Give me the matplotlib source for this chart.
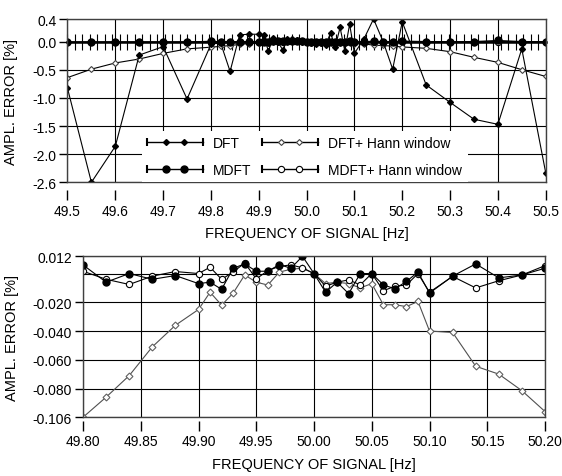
import numpy as np
import matplotlib
matplotlib.use('agg')
import matplotlib.pyplot as plt
from matplotlib.legend_handler import HandlerBase
from matplotlib.lines import Line2D

plt.rcParams['font.family'] = ['Liberation Sans', 'DejaVu Sans']

# frequencies [Hz]
f_left = [49.50, 49.55, 49.60, 49.65, 49.70, 49.75]
f_mid = [49.80, 49.82, 49.84, 49.86, 49.88, 49.90, 49.91, 49.92, 49.93, 49.94,
         49.95, 49.96, 49.97, 49.98, 49.99, 50.00, 50.01, 50.02, 50.03, 50.04,
         50.05, 50.06, 50.07, 50.08, 50.09, 50.10, 50.12, 50.14, 50.16, 50.18,
         50.20]
f_right = [50.25, 50.30, 50.35, 50.40, 50.45, 50.50]

# amplitude error [%]
dft_left = [-0.83, -2.5, -1.86, -0.24, -0.09, -1.02]
dft_mid = [-0.05, -0.02, -0.53, 0.12, 0.13, 0.13, 0.12, -0.17, 0.06, 0.0,
           -0.15, 0.05, 0.04, 0.03, 0.0, -0.01, -0.03, -0.04, -0.03, -0.06,
           0.15, -0.09, 0.25, -0.17, 0.31, -0.21, 0.05, 0.4, 0.0, -0.49,
           0.35]
dft_right = [-0.77, -1.08, -1.38, -1.47, -0.13, -2.33]

dfth_left = [-0.64, -0.49, -0.38, -0.31, -0.21, -0.13]
dfth_mid = [-0.1, -0.086, -0.071, -0.051, -0.036, -0.025, -0.013, -0.022, -0.0136, -0.001,
            -0.006, -0.008, 0.001, 0.003, 0.0037, 0.0, -0.007, -0.006, -0.007, -0.01,
            -0.007, -0.0217, -0.0217, -0.023, -0.0194, -0.04, -0.041, -0.0645, -0.070, -0.0815,
            -0.096]
dfth_right = [-0.12, -0.18, -0.28, -0.37, -0.50, -0.62]

mdft_left = [-0.01, -0.01, -0.01, -0.01, -0.01, -0.01]
mdft_mid = [0.006, -0.006, 0.0, -0.004, -0.0014, -0.007, -0.006, -0.011, 0.0037, 0.0067,
            0.0016, 0.0016, 0.0062, 0.0037, 0.012, 0.0, -0.013, -0.006, -0.014, 0.0,
            0.0, -0.0079, -0.0106, -0.0055, 0.001, -0.0136, -0.0018, 0.0067, -0.003, -0.001,
            0.0037]
mdft_right = [0.0, 0.0, 0.0, 0.02, 0.0, 0.0]

mdfth_left = [-0.01, -0.01, -0.01, -0.01, -0.01, -0.01]
mdfth_mid = [0.0016, -0.004, -0.0076, -0.0018, 0.0014, 0.0, 0.0044, -0.004, 0.001, 0.0074,
             -0.0037, 0.002, 0.005, 0.006, 0.004, 0.0, -0.0088, -0.006, -0.0044, -0.0079,
             0.0, -0.012, -0.0088, -0.008, 0.0, -0.013, -0.002, -0.01, -0.005, -0.001,
             0.0055]
mdfth_right = [0.0, 0.0, 0.0, 0.0, 0.0, 0.0]

top_xticks = [49.5, 49.6, 49.7, 49.8, 49.9, 50.0, 50.1, 50.2, 50.3, 50.4, 50.5]
top_yticks = [0.4, 0.0, -0.5, -1.0, -1.5, -2.0, -2.5]
top_ylabels = ['0.4', '0.0', '-0.5', '-1.0', '-1.5', '-2.0', '-2.6']
bot_xticks = [49.80, 49.85, 49.90, 49.95, 50.00, 50.05, 50.10, 50.15, 50.20]
bot_yticks = [0.012, -0.020, -0.040, -0.060, -0.080, -0.100]
bot_ylabels = ['0.012', '-0.020', '-0.040', '-0.060', '-0.080', '-0.106']
zero_marks = np.arange(49.5, 50.5 + 1e-9, 1 / 64)


class CapHandler(HandlerBase):
    def create_artists(self, legend, orig, xd, yd, w, h, fs, trans):
        y = h / 2 - yd
        x0 = -xd
        line = Line2D([x0, x0 + w], [y, y], color='black', lw=1.0, transform=trans)
        marks = Line2D([x0 + w / 3, x0 + 2 * w / 3], [y, y], ls='none',
                       marker=orig.get_marker(), ms=orig.get_markersize(),
                       mfc=orig.get_markerfacecolor(), mec=orig.get_markeredgecolor(),
                       mew=orig.get_markeredgewidth(), transform=trans)
        caps = Line2D([x0, x0 + w], [y, y], ls='none', marker='|', ms=6,
                      mec='black', mew=1.5, transform=trans)
        return [line, marks, caps]


fig = plt.figure(figsize=(5.62, 4.77), dpi=100)
ax1 = fig.add_axes([0.1201, 0.6157, 0.8509, 0.3423])
ax2 = fig.add_axes([0.1477, 0.1231, 0.8221, 0.3375])

styles = {
    'dft': dict(color='black', lw=0.8, marker='D', ms=3, mfc='black', mec='black'),
    'dfth': dict(color='black', lw=0.8, marker='D', ms=3, mfc='white', mec='#404040', mew=0.8),
    'dfth2': dict(color='#505050', lw=0.8, marker='D', ms=3.5, mfc='white', mec='#606060', mew=0.8),
    'mdft': dict(color='black', lw=0.8, marker='o', ms=5, mfc='black', mec='black'),
    'mdfth': dict(color='black', lw=0.8, marker='o', ms=4.5, mfc='white', mec='black', mew=0.8),
}

fa = f_left + f_mid + f_right
h_dfth, = ax1.plot(fa, dfth_left + dfth_mid + dfth_right, **styles['dfth'], label='DFT+ Hann window')
h_mdfth, = ax1.plot(fa, mdfth_left + mdfth_mid + mdfth_right, **styles['mdfth'], label='MDFT+ Hann window')
h_mdft, = ax1.plot(fa, mdft_left + mdft_mid + mdft_right, **styles['mdft'], label='MDFT')
h_dft, = ax1.plot(fa, dft_left + dft_mid + dft_right, **styles['dft'], label='DFT')

ax2.plot(f_mid, dfth_mid, **styles['dfth2'])
ax2.plot(f_mid, mdfth_mid, **styles['mdfth'])
ax2.plot(f_mid, mdft_mid, **styles['mdft'])
ax2.axhline(0.0, color='black', lw=0.8, zorder=1)

# zero line with marks in the upper chart
zax = ax1.secondary_xaxis(0.0, transform=ax1.transData)
zax.set_xticks(zero_marks)
zax.tick_params(direction='inout', length=11, width=0.8, labelbottom=False, color='black')
zax.spines['bottom'].set_linewidth(1.8)

for ax, xt, yt, yl, xlim, ylim, gap, lx in [
        (ax1, top_xticks, top_yticks, top_ylabels, (49.5, 50.5), (-2.5, 0.4), -0.045, -0.1025),
        (ax2, bot_xticks, bot_yticks, bot_ylabels, (49.8, 50.2), (-0.100, 0.012), -0.02, -0.1396)]:
    ax.set_xlim(*xlim)
    ax.set_ylim(*ylim)
    ax.set_xticks(xt)
    ax.set_yticks(yt)
    ax.set_yticklabels(yl)
    ax.grid(True, color='black', lw=0.8)
    ax.set_axisbelow(True)
    for s in ax.spines.values():
        s.set_color('#404040')
        s.set_linewidth(1.0)
    ax.tick_params(axis='y', direction='out', length=6, width=1, pad=2, labelsize=10)
    ax.tick_params(axis='x', length=0, labelbottom=False)
    sx = ax.secondary_xaxis(gap)
    sx.set_xticks(xt)
    if ax is ax2:
        sx.set_xticklabels(['%.2f' % v for v in xt])
    else:
        sx.set_xticklabels(['%.1f' % v for v in xt])
    sx.spines['bottom'].set_visible(False)
    sx.tick_params(direction='out', length=7, width=1, pad=3, labelsize=10)
    sx.set_xlabel('FREQUENCY OF SIGNAL [Hz]', fontsize=10.5, labelpad=6)
    ax.set_ylabel('AMPL. ERROR [%]', fontsize=10.5)
    ax.yaxis.set_label_coords(lx, 0.5)

leg = ax1.legend(handles=[h_dft, h_mdft, h_dfth, h_mdfth], ncol=2,
                 handler_map={Line2D: CapHandler()},
                 loc='lower left', bbox_to_anchor=(0.155, 0.0, 0.682, 0.338),
                 mode='expand', fontsize=10, frameon=True, fancybox=False,
                 edgecolor='white', framealpha=1.0, borderpad=0.4,
                 handlelength=4.0, handletextpad=0.75, columnspacing=1.0,
                 labelspacing=0.9, borderaxespad=0.0)
leg.get_frame().set_linewidth(0)

fig.savefig('out.png', dpi=100)
